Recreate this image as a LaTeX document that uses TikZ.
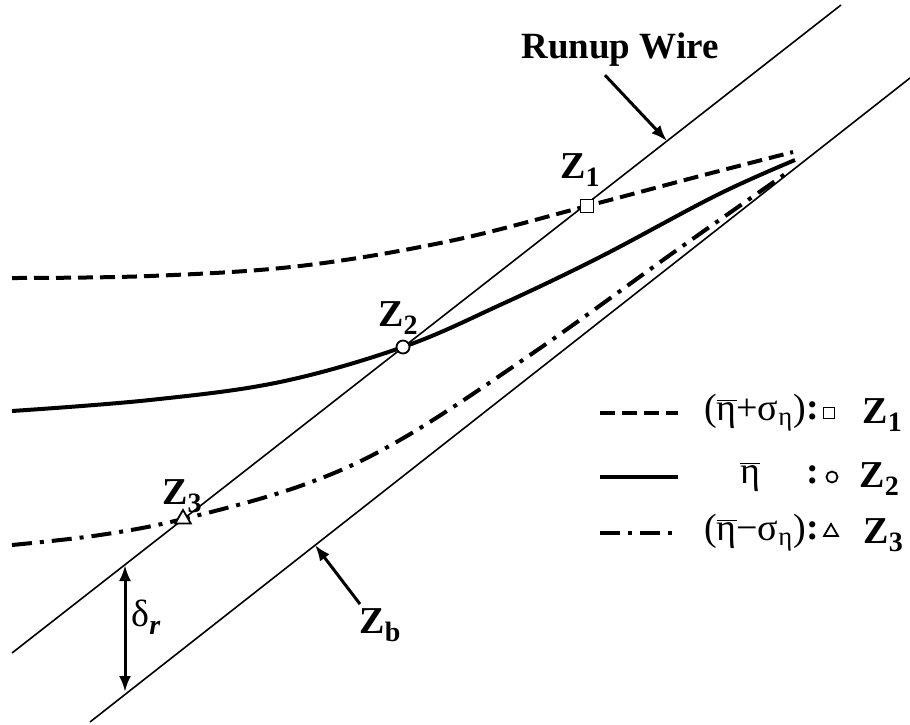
\documentclass[tikz,border=0pt]{standalone}
\usepackage{fontspec}
\setmainfont{Liberation Serif}
\usepackage{tikz}
\usetikzlibrary{arrows.meta,shapes.geometric}

\newcommand{\etabar}{$\overline{\hbox{η}}$}
\newcommand{\zsub}[1]{\raisebox{-0.45ex}{\fontsize{14}{15}\selectfont #1}}

\tikzset{
    thinline/.style={line width=0.8pt},
    thickline/.style={line width=2pt, line cap=butt},
    dashline/.style={thickline, dash pattern=on 7.5pt off 3.5pt},
    dashdotline/.style={thickline, dash pattern=on 10pt off 4pt on 2pt off 4pt},
    pointer/.style={line width=1.5pt, -{Latex[length=8pt,width=6pt]}},
    zlabel/.style={font=\fontsize{19}{22}\selectfont\bfseries, inner sep=2pt},
    legtext/.style={font=\fontsize{19}{22}\selectfont, inner sep=1pt},
    sqmark/.style={draw, fill=white, line width=0.9pt, minimum size=6.5pt, inner sep=0pt},
    circmark/.style={circle, draw, fill=white, line width=0.9pt, minimum size=6.5pt, inner sep=0pt},
    trimark/.style={regular polygon, regular polygon sides=3, draw, fill=white, line width=0.9pt, minimum size=9pt, inner sep=0pt}
}

\begin{document}
\begin{tikzpicture}[x=0.5pt, y=-0.5pt]
    \useasboundingbox (0,0) rectangle (910,724);

    \coordinate (wireA) at (12,653);
    \coordinate (wireB) at (841,5);
    \coordinate (baseA) at (90,722);
    \coordinate (baseB) at (910,78);
    \coordinate (z1) at (587,206);
    \coordinate (z2) at (403,347);
    \coordinate (z3) at (183,519);
    \coordinate (wiretip) at (667,141);
    \coordinate (basetip) at (315,545);
    \coordinate (drtop) at (125,565);
    \coordinate (drbot) at (125,692);

    \draw[thinline] (wireA) -- (wireB);
    \draw[thinline] (baseA) -- (baseB);

    \draw[dashline] plot[smooth, tension=0.6] coordinates {(12,278) (150,276) (300,266) (450,241) (z1) (700,176) (793,152)};
    \draw[thickline] plot[smooth, tension=0.6] coordinates {(12,411) (150,400) (280,382) (z2) (500,305) (600,257) (717,195) (795,160)};
    \draw[dashdotline] plot[smooth, tension=0.6] coordinates {(12,545) (100,535) (z3) (303,485) (400,440) (533,353) (677,250) (788,172)};

    \node[sqmark] (m1) at (z1) {};
    \node[circmark] (m2) at (z2) {};
    \node[trimark] (m3) at (z3) {};

    \node[zlabel] (lz1) at (580,170) {Z\zsub{1}};
    \node[zlabel] (lz2) at (398,318) {Z\zsub{2}};
    \node[zlabel] (lz3) at (182,496) {Z\zsub{3}};

    \node[font=\fontsize{18.5}{20}\selectfont\bfseries, inner sep=2pt] (runup) at (620,50) {Runup Wire};
    \draw[pointer] ([xshift=-7.5pt,yshift=-2pt]runup.south) -- (wiretip);

    \node[zlabel] (zb) at (380,625) {Z\zsub{b}};
    \draw[pointer] ([xshift=-10pt]zb.north) -- (basetip);

    \draw[line width=1.5pt, {Latex[length=8pt,width=6pt]}-{Latex[length=8pt,width=6pt]}] (drtop) -- (drbot);
    \node[legtext, anchor=west] (dr) at (129,617) {δ\zsub{\textbf{\textit{r}}}};

    \draw[dashline] (600,413) -- (678,413);
    \draw[thickline] (600,477) -- (678,477);
    \draw[dashdotline] (600,533) -- (678,533);

    \node[legtext] (leg1) at (755,413) {(\etabar+σ\textsubscript{η})};
    \node[legtext] (leg2) at (750,477) {\etabar};
    \node[legtext] (leg3) at (755,533) {(\etabar−σ\textsubscript{η})};

    \node[legtext] (c1) at (813,411) {\textbf{:}};
    \node[legtext] (c2) at (813,475) {\textbf{:}};
    \node[legtext] (c3) at (813,531) {\textbf{:}};

    \node[sqmark, minimum size=5.5pt] (lm1) at (829,413) {};
    \node[circmark, minimum size=5.5pt] (lm2) at (832,477) {};
    \node[trimark, minimum size=8pt] (lm3) at (831,532) {};

    \node[zlabel, anchor=west] (lzl1) at (858,415) {Z\zsub{1}};
    \node[zlabel, anchor=west] (lzl2) at (855,479) {Z\zsub{2}};
    \node[zlabel, anchor=west] (lzl3) at (859,535) {Z\zsub{3}};
\end{tikzpicture}
\end{document}
